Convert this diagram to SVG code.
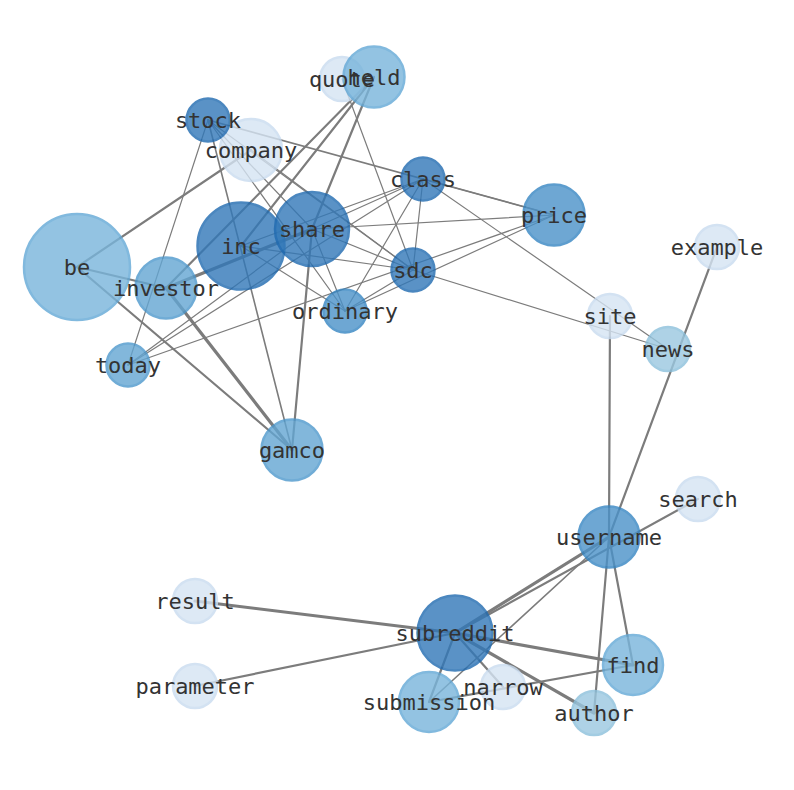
<svg xmlns="http://www.w3.org/2000/svg" width="794" height="790" viewBox="0 0 794 790">
<style>
.e{stroke:#7c7c7c;fill:none;stroke-linecap:round}
.w1{stroke-width:1.2}
.w15{stroke-width:1.6}
.w2{stroke-width:2.2}
.w3{stroke-width:3.2}
.n circle{opacity:0.8;stroke-width:2.5}
.c1{fill:#3278b8;stroke:#1f6ab0}
.c2{fill:#4b92c9;stroke:#3585c2}
.c3{fill:#63a6d3;stroke:#4d98cc}
.c4{fill:#79b5db;stroke:#62a8d6}
.c5{fill:#9ac8e0;stroke:#8cc0dc}
.c6{fill:#d5e4f3;stroke:#c9dcf0}
text{font-family:"DejaVu Sans Mono","Liberation Mono",monospace;font-size:22px;fill:#333;text-anchor:middle;dominant-baseline:central}
</style>
<rect width="794" height="790" fill="#fff"/>
<g id="connectors">
<line class="e w2" x1="77" y1="267" x2="251" y2="150"/>
<line class="e w2" x1="77" y1="267" x2="166" y2="288"/>
<line class="e w2" x1="77" y1="267" x2="292" y2="450"/>
<line class="e w3" x1="166" y1="288" x2="292" y2="450"/>
<line class="e w2" x1="374" y1="77" x2="166" y2="288"/>
<line class="e w2" x1="374" y1="77" x2="241" y2="246"/>
<line class="e w2" x1="374" y1="77" x2="312" y2="229"/>
<line class="e w2" x1="312" y1="229" x2="292" y2="450"/>
<line class="e w15" x1="208" y1="120" x2="292" y2="450"/>
<line class="e w3" x1="166" y1="288" x2="312" y2="229"/>
<line class="e w1" x1="342" y1="79" x2="413" y2="270"/>
<line class="e w1" x1="208" y1="120" x2="128" y2="365"/>
<line class="e w1" x1="208" y1="120" x2="312" y2="229"/>
<line class="e w1" x1="208" y1="120" x2="345" y2="311"/>
<line class="e w1" x1="208" y1="120" x2="413" y2="270"/>
<line class="e w15" x1="208" y1="120" x2="554" y2="215"/>
<line class="e w1" x1="423" y1="179" x2="554" y2="215"/>
<line class="e w1" x1="251" y1="150" x2="413" y2="270"/>
<line class="e w1" x1="312" y1="229" x2="423" y2="179"/>
<line class="e w1" x1="241" y1="246" x2="423" y2="179"/>
<line class="e w1" x1="128" y1="365" x2="423" y2="179"/>
<line class="e w1" x1="128" y1="365" x2="312" y2="229"/>
<line class="e w1" x1="128" y1="365" x2="554" y2="215"/>
<line class="e w1" x1="312" y1="229" x2="413" y2="270"/>
<line class="e w1" x1="241" y1="246" x2="413" y2="270"/>
<line class="e w1" x1="312" y1="229" x2="554" y2="215"/>
<line class="e w1" x1="312" y1="229" x2="345" y2="311"/>
<line class="e w1" x1="241" y1="246" x2="345" y2="311"/>
<line class="e w1" x1="423" y1="179" x2="413" y2="270"/>
<line class="e w1" x1="423" y1="179" x2="345" y2="311"/>
<line class="e w1" x1="345" y1="311" x2="554" y2="215"/>
<line class="e w1" x1="345" y1="311" x2="413" y2="270"/>
<line class="e w1" x1="423" y1="179" x2="668" y2="349"/>
<line class="e w1" x1="413" y1="270" x2="668" y2="349"/>
<line class="e w3" x1="455" y1="633" x2="609" y2="537"/>
<line class="e w2" x1="455" y1="633" x2="698" y2="499"/>
<line class="e w3" x1="455" y1="633" x2="195" y2="601"/>
<line class="e w2" x1="455" y1="633" x2="195" y2="686"/>
<line class="e w3" x1="455" y1="633" x2="633" y2="665"/>
<line class="e w3" x1="455" y1="633" x2="594" y2="713"/>
<line class="e w2" x1="455" y1="633" x2="429" y2="702"/>
<line class="e w2" x1="455" y1="633" x2="503" y2="687"/>
<line class="e w15" x1="429" y1="702" x2="609" y2="537"/>
<line class="e w2" x1="429" y1="702" x2="633" y2="665"/>
<line class="e w2" x1="609" y1="537" x2="610" y2="316"/>
<line class="e w2" x1="609" y1="537" x2="717" y2="247"/>
<line class="e w2" x1="609" y1="537" x2="633" y2="665"/>
<line class="e w2" x1="609" y1="537" x2="594" y2="713"/>
</g>
<g id="nodes">
<g id="node-be" class="n"><circle class="c4" cx="77" cy="267" r="53"/></g>
<g id="node-company" class="n"><circle class="c6" cx="251" cy="150" r="31"/></g>
<g id="node-stock" class="n"><circle class="c1" cx="208" cy="120" r="21.5"/></g>
<g id="node-quote" class="n"><circle class="c6" cx="342" cy="79" r="22"/></g>
<g id="node-held" class="n"><circle class="c4" cx="374" cy="77" r="30.5"/></g>
<g id="node-inc" class="n"><circle class="c1" cx="241" cy="246" r="43.5"/></g>
<g id="node-share" class="n"><circle class="c1" cx="312" cy="229" r="37"/></g>
<g id="node-investor" class="n"><circle class="c3" cx="166" cy="288" r="30.5"/></g>
<g id="node-class" class="n"><circle class="c1" cx="423" cy="179" r="21.5"/></g>
<g id="node-price" class="n"><circle class="c2" cx="554" cy="215" r="30.5"/></g>
<g id="node-sdc" class="n"><circle class="c1" cx="413" cy="270" r="21.5"/></g>
<g id="node-ordinary" class="n"><circle class="c2" cx="345" cy="311" r="21.5"/></g>
<g id="node-today" class="n"><circle class="c3" cx="128" cy="365" r="21.5"/></g>
<g id="node-gamco" class="n"><circle class="c3" cx="292" cy="450" r="30.5"/></g>
<g id="node-example" class="n"><circle class="c6" cx="717" cy="247" r="22"/></g>
<g id="node-site" class="n"><circle class="c6" cx="610" cy="316" r="22"/></g>
<g id="node-news" class="n"><circle class="c5" cx="668" cy="349" r="22"/></g>
<g id="node-search" class="n"><circle class="c6" cx="698" cy="499" r="22"/></g>
<g id="node-username" class="n"><circle class="c2" cx="609" cy="537" r="30.5"/></g>
<g id="node-result" class="n"><circle class="c6" cx="195" cy="601" r="22"/></g>
<g id="node-parameter" class="n"><circle class="c6" cx="195" cy="686" r="22"/></g>
<g id="node-subreddit" class="n"><circle class="c1" cx="455" cy="633" r="37.5"/></g>
<g id="node-find" class="n"><circle class="c4" cx="633" cy="665" r="30"/></g>
<g id="node-narrow" class="n"><circle class="c6" cx="503" cy="687" r="22"/></g>
<g id="node-submission" class="n"><circle class="c4" cx="429" cy="702" r="30"/></g>
<g id="node-author" class="n"><circle class="c5" cx="594" cy="713" r="22"/></g>
</g>
<g id="labels">
<text id="label-be" x="77" y="267">be</text>
<text id="label-company" x="251" y="150">company</text>
<text id="label-stock" x="208" y="120">stock</text>
<text id="label-quote" x="342" y="79">quote</text>
<text id="label-held" x="374" y="77">held</text>
<text id="label-inc" x="241" y="246">inc</text>
<text id="label-share" x="312" y="229">share</text>
<text id="label-investor" x="166" y="288">investor</text>
<text id="label-class" x="423" y="179">class</text>
<text id="label-price" x="554" y="215">price</text>
<text id="label-sdc" x="413" y="270">sdc</text>
<text id="label-ordinary" x="345" y="311">ordinary</text>
<text id="label-today" x="128" y="365">today</text>
<text id="label-gamco" x="292" y="450">gamco</text>
<text id="label-example" x="717" y="247">example</text>
<text id="label-site" x="610" y="316">site</text>
<text id="label-news" x="668" y="349">news</text>
<text id="label-search" x="698" y="499">search</text>
<text id="label-username" x="609" y="537">username</text>
<text id="label-result" x="195" y="601">result</text>
<text id="label-parameter" x="195" y="686">parameter</text>
<text id="label-subreddit" x="455" y="633">subreddit</text>
<text id="label-find" x="633" y="665">find</text>
<text id="label-narrow" x="503" y="687">narrow</text>
<text id="label-submission" x="429" y="702">submission</text>
<text id="label-author" x="594" y="713">author</text>
</g>
</svg>
